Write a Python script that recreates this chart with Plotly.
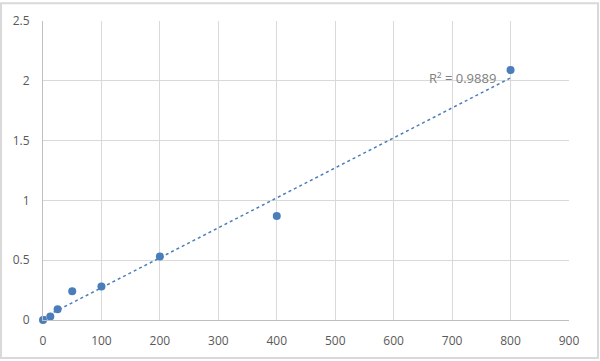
import numpy as np
import plotly.graph_objects as go

conc = [0, 12.5, 25, 50, 100, 200, 400, 800]
od = [0.0, 0.03, 0.09, 0.24, 0.28, 0.53, 0.87, 2.09]
r2_label = "R² = 0.9889"
x_ticks = [0, 100, 200, 300, 400, 500, 600, 700, 800, 900]
y_ticks = [0, 0.5, 1, 1.5, 2, 2.5]

slope, intercept = np.polyfit(conc, od, 1)
tx = [min(conc), max(conc)]
ty = [slope * v + intercept for v in tx]

color = "#4A7EBB"
fig = go.Figure()
fig.add_trace(go.Scatter(x=tx, y=ty, mode="lines",
                         line=dict(color=color, width=1.5, dash="dot"),
                         hoverinfo="skip", showlegend=False))
fig.add_trace(go.Scatter(x=conc, y=od, mode="markers",
                         marker=dict(color=color, size=8),
                         showlegend=False, cliponaxis=False))
fig.add_annotation(x=717, y=2.02, text=r2_label, showarrow=False,
                   font=dict(size=13, color="#7f7f7f", family="Open Sans"))

axis_font = dict(size=12, color="#595959", family="Open Sans")
fig.update_xaxes(range=[0, 900], tickvals=x_ticks, showgrid=True,
                 gridcolor="#d9d9d9", gridwidth=1, zeroline=False,
                 showline=True, linecolor="#bfbfbf", linewidth=1,
                 tickfont=axis_font, ticks="outside", ticklen=10,
                 tickcolor="rgba(0,0,0,0)")
fig.update_yaxes(range=[0, 2.5], tickvals=y_ticks, showgrid=True,
                 gridcolor="#d9d9d9", gridwidth=1, zeroline=False,
                 showline=True, linecolor="#bfbfbf", linewidth=1,
                 tickfont=axis_font, ticks="outside", ticklen=10,
                 tickcolor="rgba(0,0,0,0)")
fig.update_layout(width=600, height=361,
                  margin=dict(l=43, r=31, t=19, b=40),
                  plot_bgcolor="white", paper_bgcolor="white",
                  shapes=[dict(type="rect", xref="paper", yref="paper",
                               x0=-0.0798, x1=1.0551, y0=-0.127, y1=1.0596,
                               line=dict(color="#d9d9d9", width=2))])
fig.write_html("out.html", config={"displayModeBar": False},
               post_script="document.body.style.margin='0';"
                           "document.body.style.overflow='hidden';"
                           "document.documentElement.style.overflow='hidden';")
